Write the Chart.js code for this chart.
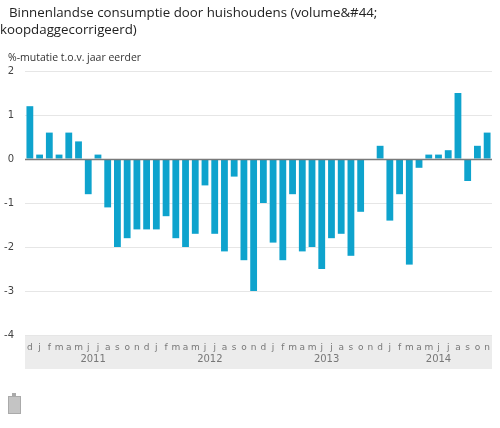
<!DOCTYPE html>
<html>
<head>
<meta charset="utf-8">
<script src="https://cdn.jsdelivr.net/npm/chart.js@4.4.1/dist/chart.umd.min.js"></script>
<style>
  html, body { margin: 0; padding: 0; background: #fff; }
  #wrap { position: relative; width: 500px; height: 428px; overflow: hidden; }
  #title { position: absolute; left: 0px; top: 4px; font-family: "Open Sans", sans-serif; font-size: 13.3px; line-height: 17px; color: #222; white-space: nowrap; text-indent: 9px; }
  #sub { position: absolute; left: 8px; top: 50px; font-family: "Open Sans", sans-serif; font-size: 10.5px; line-height: 14px; color: #333; white-space: nowrap; }
  #icon { position: absolute; left: 8px; top: 396px; width: 11px; height: 16px; background: #c4c4c4; border: 1px solid #aaa; }
  #icon:before { content: ""; position: absolute; left: 3px; top: -4px; width: 4px; height: 3px; background: #aaa; }
  canvas { position: absolute; left: 0; top: 0; }
</style>
</head>
<body>
<div id="wrap">
  <canvas id="c" width="500" height="428"></canvas>
  <div id="title">Binnenlandse consumptie door huishoudens (volume&amp;#44;<br>koopdaggecorrigeerd)</div>
  <div id="sub">%-mutatie t.o.v. jaar eerder</div>
  <div id="icon"></div>
</div>
<script>
const monthLabels = ['d','j','f','m','a','m','j','j','a','s','o','n',
                     'd','j','f','m','a','m','j','j','a','s','o','n',
                     'd','j','f','m','a','m','j','j','a','s','o','n',
                     'd','j','f','m','a','m','j','j','a','s','o','n'];
const monthYears = [2010,2011,2011,2011,2011,2011,2011,2011,2011,2011,2011,2011,
                    2011,2012,2012,2012,2012,2012,2012,2012,2012,2012,2012,2012,
                    2012,2013,2013,2013,2013,2013,2013,2013,2013,2013,2013,2013,
                    2013,2014,2014,2014,2014,2014,2014,2014,2014,2014,2014,2014];
const yearLabels = ['2011','2012','2013','2014'];
const values = [1.2, 0.1, 0.6, 0.1, 0.6, 0.4, -0.8, 0.1, -1.1, -2.0, -1.8, -1.6,
                -1.6, -1.6, -1.3, -1.8, -2.0, -1.7, -0.6, -1.7, -2.1, -0.4, -2.3, -3.0,
                -1.0, -1.9, -2.3, -0.8, -2.1, -2.0, -2.5, -1.8, -1.7, -2.2, -1.2, 0.0,
                0.3, -1.4, -0.8, -2.4, -0.2, 0.1, 0.1, 0.2, 1.5, -0.5, 0.3, 0.6];
const yTicks = [2, 1, 0, -1, -2, -3, -4];

const bandPlugin = {
  id: 'band',
  beforeDraw(chart) {
    const {ctx, chartArea} = chart;
    ctx.save();
    ctx.fillStyle = '#ececec';
    ctx.fillRect(chartArea.left, chartArea.bottom, chartArea.right - chartArea.left, 34);
    ctx.restore();
  },
  afterDatasetsDraw(chart) {
    const {ctx, chartArea, scales} = chart;
    const y0 = Math.round(scales.y.getPixelForValue(0)) + 0.5;
    ctx.save();
    ctx.strokeStyle = '#7a7a7a';
    ctx.lineWidth = 1.5;
    ctx.beginPath();
    ctx.moveTo(chartArea.left, y0);
    ctx.lineTo(chartArea.right, y0);
    ctx.stroke();
    ctx.fillStyle = '#777';
    ctx.font = '10px "DejaVu Sans", sans-serif';
    ctx.textAlign = 'center';
    ctx.textBaseline = 'middle';
    yearLabels.forEach(yl => {
      const idx = [];
      monthYears.forEach((y, i) => { if (String(y) === yl) idx.push(i); });
      const mid = idx.reduce((a, b) => a + b, 0) / idx.length;
      ctx.fillText(yl, scales.x.getPixelForValue(mid), chartArea.bottom + 24);
    });
    ctx.restore();
  }
};

new Chart(document.getElementById('c'), {
  type: 'bar',
  data: {
    labels: monthLabels,
    datasets: [{
      data: values,
      backgroundColor: '#0ea3cd',
      borderWidth: 0,
      categoryPercentage: 1.0,
      barPercentage: 0.7
    }]
  },
  options: {
    responsive: false,
    animation: false,
    devicePixelRatio: 1,
    layout: { padding: { top: 71, right: 8, left: 0, bottom: 0 } },
    plugins: { legend: { display: false }, tooltip: { enabled: false } },
    scales: {
      x: {
        grid: { display: false, drawTicks: false },
        border: { display: false },
        ticks: {
          autoSkip: false, maxRotation: 0, minRotation: 0,
          padding: 7,
          color: '#777',
          font: { family: '"DejaVu Sans", sans-serif', size: 9 }
        },
        afterFit(scale) { scale.height = 93; }
      },
      y: {
        min: -4, max: 2,
        afterBuildTicks(scale) { scale.ticks = yTicks.map(v => ({ value: v })); },
        grid: {
          drawTicks: false,
          color: ctx => ctx.tick && ctx.tick.value === 0 ? '#7a7a7a' : '#e6e6e6',
          lineWidth: 1
        },
        border: { display: false },
        ticks: {
          padding: 11,
          color: '#444',
          font: { family: '"DejaVu Sans", sans-serif', size: 10 }
        },
        afterFit(scale) { scale.width = 25; }
      }
    }
  },
  plugins: [bandPlugin]
});
</script>
</body>
</html>
